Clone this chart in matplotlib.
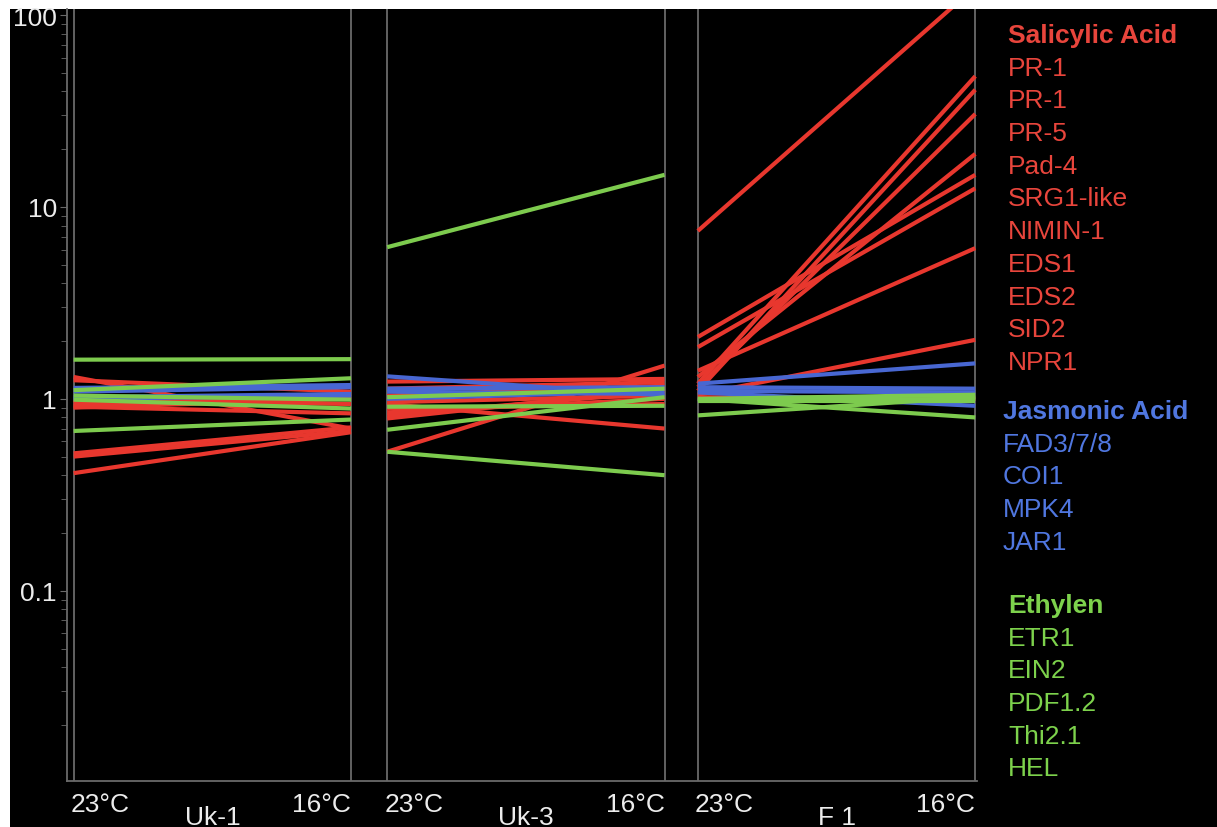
import matplotlib
matplotlib.use("Agg")
import matplotlib.pyplot as plt
from matplotlib.patches import Rectangle
import numpy as np

# ---------------- data ----------------
genes = ["PR-1", "PR-1", "PR-5", "Pad-4", "SRG1-like", "NIMIN-1", "EDS1", "EDS2", "SID2", "NPR1",
         "FAD3/7/8", "COI1", "MPK4", "JAR1",
         "ETR1", "EIN2", "PDF1.2", "Thi2.1", "HEL"]
groups = ["SA"] * 10 + ["JA"] * 4 + ["ET"] * 5
group_titles = ["Salicylic Acid", "Jasmonic Acid", "Ethylen"]
group_keys = ["SA", "JA", "ET"]
strains = ["Uk-1", "Uk-3", "F 1"]
temps = ["23°C", "16°C"]
yticks = [0.1, 1, 10, 100]
ytick_labels = ["0.1", "1", "10", "100"]

uk1_23 = [1.30, 1.25, 0.92, 0.91, 0.90, 0.52, 0.50, 0.41, 0.95, 0.98,
          1.14, 1.09, 1.02, 1.00,
          1.60, 1.11, 1.04, 0.99, 0.68]
uk1_16 = [0.70, 1.09, 1.06, 0.84, 1.00, 0.71, 0.68, 0.67, 1.02, 0.94,
          1.18, 1.15, 1.06, 1.04,
          1.61, 1.28, 0.99, 0.89, 0.78]
uk3_23 = [1.23, 1.13, 0.82, 0.79, 0.85, 0.96, 1.04, 0.89, 0.94, 0.53,
          1.31, 1.13, 1.09, 1.00,
          6.17, 0.53, 0.69, 1.02, 0.91]
uk3_16 = [1.27, 1.22, 1.09, 1.13, 1.00, 1.04, 1.17, 0.94, 0.70, 1.49,
          1.04, 1.15, 1.06, 1.10,
          14.7, 0.40, 1.02, 1.13, 0.92]
f1_23 = [7.5, 1.20, 1.10, 1.15, 1.30, 2.10, 1.86, 1.40, 1.05, 1.02,
         1.20, 1.15, 1.10, 1.08,
         1.00, 0.82, 0.98, 0.97, 1.00]
f1_16 = [140.0, 48.0, 40.8, 30.5, 18.9, 14.7, 12.5, 6.1, 2.03, 1.00,
         1.53, 1.13, 1.08, 0.92,
         0.80, 1.02, 1.00, 0.97, 1.05]

# ---------------- style ----------------
W, H = 1217, 828
line_colors = {"SA": "#E8372E", "JA": "#4867D2", "ET": "#7DCB4E"}
text_colors = {"SA": "#E8453C", "JA": "#5077E0", "ET": "#7DD24C"}
grid_col = "#6a6a6a"
font = "Liberation Sans"
fs = 19

fig = plt.figure(figsize=(W / 100, H / 100), dpi=100)
fig.patch.set_facecolor("white")
fig.add_artist(Rectangle((10 / W, 0), 1, (H - 10) / H, transform=fig.transFigure,
                         facecolor="black", edgecolor="none", zorder=-10))

left_px, right_px, top_px, bot_px = 66.7, 977.5, 10, 782
ax = fig.add_axes([left_px / W, (H - bot_px) / H, (right_px - left_px) / W, (bot_px - top_px) / H])
ax.set_facecolor("black")
ax.set_yscale("log")
ax.set_ylim(0.0102, 107.5)
ax.set_xlim(-0.025, 3.258)

panel_starts = [0.0, 1.13, 2.25]
for p0 in panel_starts:
    for xv in (p0, p0 + 1):
        ax.axvline(xv, color=grid_col, lw=1.3, zorder=1)

data = [(uk1_23, uk1_16), (uk3_23, uk3_16), (f1_23, f1_16)]
for key in group_keys:
    for p0, (a, b) in zip(panel_starts, data):
        for i, g in enumerate(groups):
            if g != key:
                continue
            ax.plot([p0, p0 + 1], [a[i], b[i]], color=line_colors[g], lw=3.0,
                    solid_capstyle="butt", zorder=3)

for s in ("top", "right"):
    ax.spines[s].set_visible(False)
for s in ("left", "bottom"):
    ax.spines[s].set_color(grid_col)
    ax.spines[s].set_linewidth(1.3)

ax.set_yticks(yticks)
ax.set_yticklabels(ytick_labels, fontsize=fs, color="#ececec", family=font)
ax.tick_params(axis="y", which="major", length=5, color=grid_col, pad=2)
ax.tick_params(axis="y", which="minor", length=4, color=grid_col)
ax.set_xticks([])

# x labels
for p0, name in zip(panel_starts, strains):
    ax.text(p0 - 0.01, -0.03, temps[0], transform=ax.get_xaxis_transform(),
            ha="left", va="center", fontsize=fs, color="#ececec", family=font)
    ax.text(p0 + 1.0, -0.03, temps[1], transform=ax.get_xaxis_transform(),
            ha="right", va="center", fontsize=fs, color="#ececec", family=font)
    ax.text(p0 + 0.5, -0.047, name, transform=ax.get_xaxis_transform(),
            ha="center", va="center", fontsize=fs, color="#ececec", family=font)

# legend text
def ftext(xp, yp, s, color, bold=False):
    fig.text(xp / W, 1 - yp / H, s, ha="left", va="center", fontsize=fs, color=color,
             family=font, fontweight="bold" if bold else "normal")

header_pos = {"SA": (1008, 36), "JA": (1003, 412), "ET": (1008, 606)}
step = 32.7
for key, title in zip(group_keys, group_titles):
    xp, yp = header_pos[key]
    ftext(xp, yp, title, text_colors[key], bold=True)
    names = [gname for gname, g in zip(genes, groups) if g == key]
    for k, n in enumerate(names):
        ftext(xp, yp + step * (k + 1), n, text_colors[key])

fig.savefig("out.png", dpi=100, facecolor=fig.get_facecolor())
